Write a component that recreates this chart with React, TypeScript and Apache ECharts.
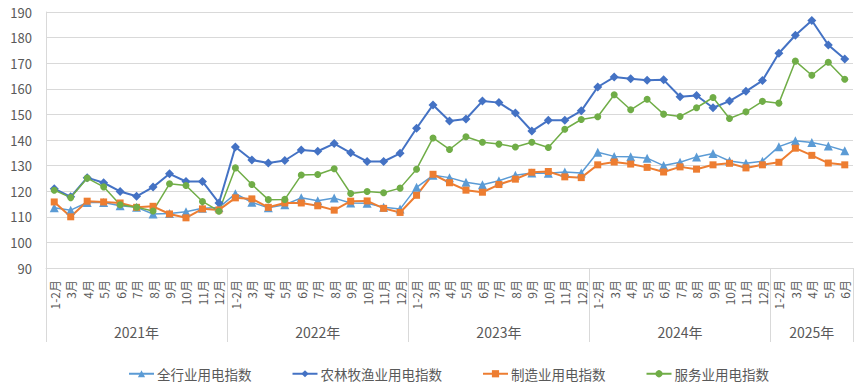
import React, { useEffect, useRef } from "react";
import * as echarts from "echarts";

const years = ["2021年", "2022年", "2023年", "2024年", "2025年"];
const monthsFull = ["1-2月", "3月", "4月", "5月", "6月", "7月", "8月", "9月", "10月", "11月", "12月"];
const months2025 = ["1-2月", "3月", "4月", "5月", "6月"];

const allIndustry = [
  113.5, 112.6, 115.6, 115.6, 114.3, 113.7, 111.1, 111.3, 112.0, 113.3, 113.6,
  119.0, 115.7, 113.5, 114.7, 117.4, 116.3, 117.3, 115.4, 115.3, 113.7, 113.0,
  121.5, 126.2, 125.3, 123.5, 122.5, 124.1, 126.2, 127.1, 127.0, 127.5, 127.1,
  135.2, 133.6, 133.5, 132.9, 130.0, 131.3, 133.4, 134.7, 131.8, 130.9, 131.7,
  137.4, 139.7, 139.0, 137.7, 135.8,
];
const agriculture = [
  121.0, 117.8, 125.3, 123.3, 119.9, 118.0, 121.6, 126.8, 123.8, 123.8, 115.4,
  137.3, 132.2, 131.0, 132.0, 136.1, 135.6, 138.6, 135.0, 131.6, 131.6, 134.8,
  144.6, 153.7, 147.4, 148.2, 155.2, 154.6, 150.5, 143.5, 147.7, 147.7, 151.4,
  160.7, 164.6, 163.9, 163.3, 163.5, 156.9, 157.4, 152.6, 155.2, 159.0, 163.2,
  173.9, 180.9, 186.7, 177.1, 171.6,
];
const manufacturing = [
  115.8, 110.0, 116.1, 115.8, 115.4, 113.7, 114.1, 111.1, 109.6, 113.1, 112.7,
  117.4, 117.0, 113.7, 115.4, 115.4, 114.3, 112.6, 116.1, 116.2, 113.3, 111.7,
  118.4, 126.6, 123.3, 120.4, 119.6, 122.6, 124.7, 127.4, 127.7, 125.6, 125.3,
  130.3, 131.4, 130.6, 129.3, 127.5, 129.5, 128.6, 130.3, 130.9, 129.1, 130.3,
  131.3, 136.8, 134.0, 131.0, 130.3,
];
const services = [
  120.4, 117.5, 125.1, 121.7, 114.7, 113.7, 112.3, 122.9, 122.2, 116.0, 112.2,
  129.1, 122.6, 116.7, 116.8, 126.3, 126.5, 128.8, 119.1, 119.9, 119.4, 121.2,
  128.6, 140.8, 136.3, 141.3, 139.1, 138.4, 137.3, 139.1, 137.1, 144.2, 148.0,
  149.1, 157.7, 151.8, 155.9, 150.1, 149.2, 152.6, 156.6, 148.4, 151.0, 155.1,
  154.4, 170.8, 165.3, 170.4, 163.7,
];

const yearMonths = [monthsFull, monthsFull, monthsFull, monthsFull, months2025];

export default function App() {
  const ref = useRef<HTMLDivElement>(null);
  useEffect(() => {
    if (!ref.current) return;
    const chart = echarts.init(ref.current, null, { renderer: "svg" });

    const categories: string[] = [];
    const yearCats: string[] = [];
    const boundaries = new Set<number>();
    yearMonths.forEach((ms, yi) => {
      const start = categories.length;
      boundaries.add(start);
      const mid = start + Math.floor(ms.length / 2);
      ms.forEach((m, i) => {
        categories.push(m);
        yearCats.push(start + i === mid ? years[yi] : "");
      });
    });

    const font = "'Noto Sans CJK SC', 'Noto Sans', sans-serif";
    const textColor = "#595959";
    const gridColor = "#d9d9d9";

    const mkSeries = (name: string, data: number[], color: string, symbol: string, size: number, width: number) => ({
      name,
      type: "line",
      data,
      symbol,
      symbolSize: size,
      showSymbol: true,
      itemStyle: { color },
      lineStyle: { color, width },
    });

    chart.setOption({
      animation: false,
      textStyle: { fontFamily: font },
      grid: { left: 46, right: 8, top: 12, bottom: 115, containLabel: false },
      legend: {
        left: 123,
        top: 362,
        itemGap: 40,
        itemWidth: 25,
        itemHeight: 9,
        textStyle: { color: textColor, fontSize: 13.5, fontFamily: font, padding: [0, 0, 0, -2] },
        data: ["全行业用电指数", "农林牧渔业用电指数", "制造业用电指数", "服务业用电指数"],
      },
      xAxis: [
        {
          type: "category",
          data: categories,
          boundaryGap: true,
          axisLine: { show: true, lineStyle: { color: gridColor } },
          axisTick: { show: false },
          axisLabel: {
            interval: 0,
            rotate: 90,
            margin: 12,
            fontSize: 12,
            color: textColor,
            fontFamily: font,
          },
        },
        {
          type: "category",
          data: yearCats,
          position: "bottom",
          boundaryGap: true,
          axisLine: { show: false },
          axisTick: {
            show: true,
            length: 74,
            interval: (index: number) => boundaries.has(index),
            lineStyle: { color: gridColor },
          },
          axisLabel: {
            interval: 0,
            margin: 57,
            fontSize: 14,
            color: textColor,
            fontFamily: font,
          },
        },
      ],
      yAxis: {
        type: "value",
        min: 90,
        max: 190,
        interval: 10,
        axisLine: { show: true, lineStyle: { color: gridColor } },
        axisTick: { show: false },
        splitLine: { lineStyle: { color: gridColor } },
        axisLabel: { color: textColor, fontSize: 13, margin: 14, fontFamily: font },
      },
      series: [
        mkSeries("全行业用电指数", allIndustry, "#5B9BD5", "triangle", 9, 1.5),
        mkSeries("农林牧渔业用电指数", agriculture, "#4472C4", "diamond", 9, 2),
        mkSeries("制造业用电指数", manufacturing, "#ED7D31", "rect", 7, 2),
        mkSeries("服务业用电指数", services, "#70AD47", "circle", 7, 1.5),
      ],
    });
    return () => chart.dispose();
  }, []);

  return (
    <div
      ref={ref}
      style={{ position: "fixed", left: 0, top: 0, width: 861, height: 383, background: "#fff" }}
    />
  );
}
